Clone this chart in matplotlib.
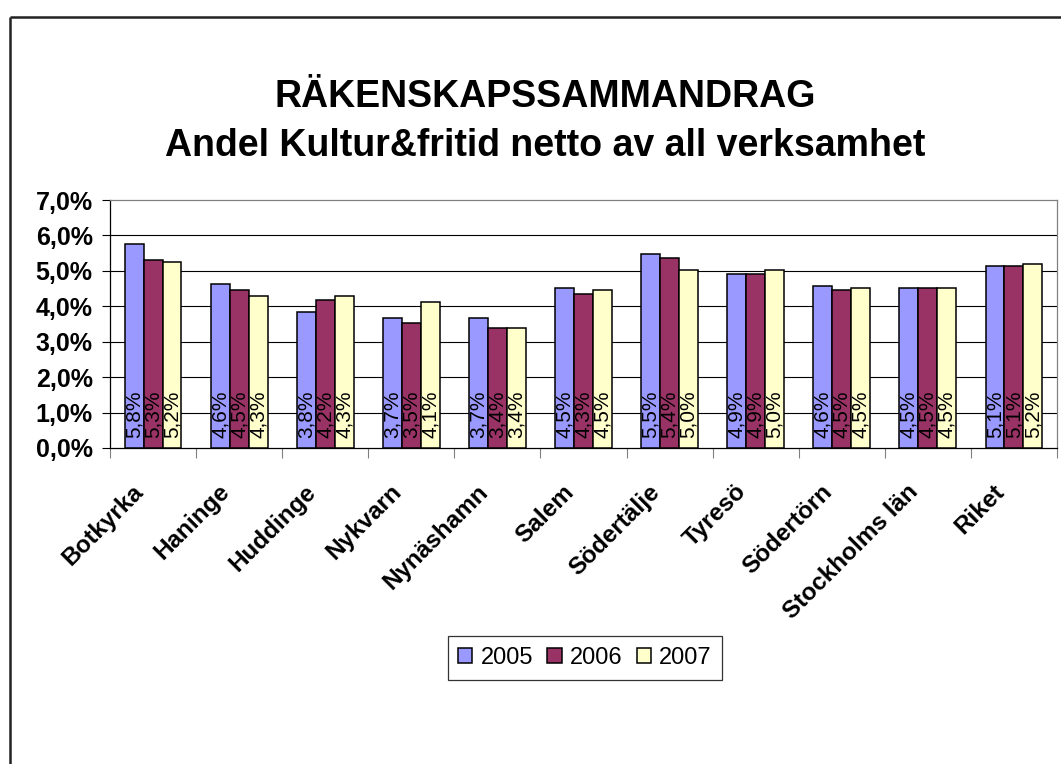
import matplotlib
matplotlib.use("Agg")
import matplotlib.pyplot as plt
from matplotlib.lines import Line2D
from matplotlib.transforms import ScaledTranslation
import numpy as np

plt.rcParams['font.family'] = ['Liberation Sans', 'DejaVu Sans']

categories = ["Botkyrka", "Haninge", "Huddinge", "Nykvarn", "Nynäshamn", "Salem",
              "Södertälje", "Tyresö", "Södertörn", "Stockholms län", "Riket"]
series_names = ["2005", "2006", "2007"]
v2005 = [5.76, 4.63, 3.83, 3.67, 3.67, 4.52, 5.48, 4.92, 4.58, 4.52, 5.14]
v2006 = [5.30, 4.46, 4.18, 3.54, 3.39, 4.34, 5.36, 4.92, 4.46, 4.52, 5.14]
v2007 = [5.24, 4.29, 4.29, 4.13, 3.39, 4.46, 5.03, 5.03, 4.52, 4.52, 5.20]
colors = ["#9999FF", "#993366", "#FFFFCC"]
title_lines = ["RÄKENSKAPSSAMMANDRAG", "Andel Kultur&fritid netto av all verksamhet"]

W, H = 1061, 764
fig = plt.figure(figsize=(W / 100, H / 100), dpi=100)
fig.patch.set_facecolor("white")

# outer chart frame (left and top visible)
fig.add_artist(Line2D([10 / W, 10 / W], [0, 1 - 16.5 / H], transform=fig.transFigure,
                      color="#222222", lw=1.8, solid_capstyle="butt"))
fig.add_artist(Line2D([10 / W, 1], [1 - 16.5 / H, 1 - 16.5 / H], transform=fig.transFigure,
                      color="#222222", lw=1.8, solid_capstyle="butt"))

ax = fig.add_axes([110 / W, 1 - 448 / H, (1057 - 110) / W, (448 - 200) / H])

x = np.arange(len(categories))
bw = 0.22
all_vals = [v2005, v2006, v2007]
for i, (vals, c, name) in enumerate(zip(all_vals, colors, series_names)):
    pos = x + (i - 1) * bw
    bars = ax.bar(pos, vals, width=bw, color=c, edgecolor="black", linewidth=1.1,
                  label=name, zorder=3)
    for b, v in zip(bars, vals):
        ax.annotate(f"{v:.1f}%".replace(".", ","),
                    xy=(b.get_x() + b.get_width() / 2, 0), xytext=(0, 7),
                    textcoords="offset points", rotation=90, ha="center", va="bottom",
                    fontsize=15, color="black", zorder=4)

ax.set_xlim(-0.5, len(categories) - 0.5)
ax.set_ylim(0, 7)
yt = np.arange(0, 8)
ax.set_yticks(yt)
ax.set_yticklabels([f"{t:.1f}%".replace(".", ",") for t in yt], fontsize=18,
                   fontweight="bold")
for t in yt[1:-1]:
    ax.axhline(t, color="black", lw=0.8, zorder=1)

ax.spines["top"].set_color("#808080")
ax.spines["right"].set_color("#808080")
ax.spines["left"].set_color("black")
ax.spines["bottom"].set_color("black")
for s in ax.spines.values():
    s.set_linewidth(0.9)

ax.tick_params(axis="y", direction="out", length=6, width=0.8, color="black", pad=6.5)
ax.set_xticks(x)
ax.set_xticklabels(categories, rotation=45, ha="right", va="center",
                   rotation_mode="anchor", fontsize=17.5, fontweight="bold")
ax.tick_params(axis="x", which="major", length=0, pad=29)
for lbl in ax.get_xticklabels():
    lbl.set_transform(lbl.get_transform() + ScaledTranslation(-0.13, 0, fig.dpi_scale_trans))
ax.set_xticks(np.arange(-0.5, len(categories) + 0.5, 1), minor=True)
ax.tick_params(axis="x", which="minor", direction="out", length=7, width=0.8,
               color="#808080")

leg = fig.legend(loc="center", bbox_to_anchor=(585 / W, 1 - 658 / H), ncol=3,
                 fontsize=17, frameon=True, fancybox=False, edgecolor="black",
                 handlelength=0.6, handleheight=0.6, handletextpad=0.35,
                 columnspacing=0.6, borderpad=0.45, borderaxespad=0)
leg.get_frame().set_linewidth(0.9)

fig.text(545 / W, 1 - 97 / H, title_lines[0], ha="center", va="center",
         fontsize=27, fontweight="bold")
fig.text(545 / W, 1 - 146 / H, title_lines[1], ha="center", va="center",
         fontsize=27, fontweight="bold")

fig.savefig("out.png", dpi=100, facecolor="white")
